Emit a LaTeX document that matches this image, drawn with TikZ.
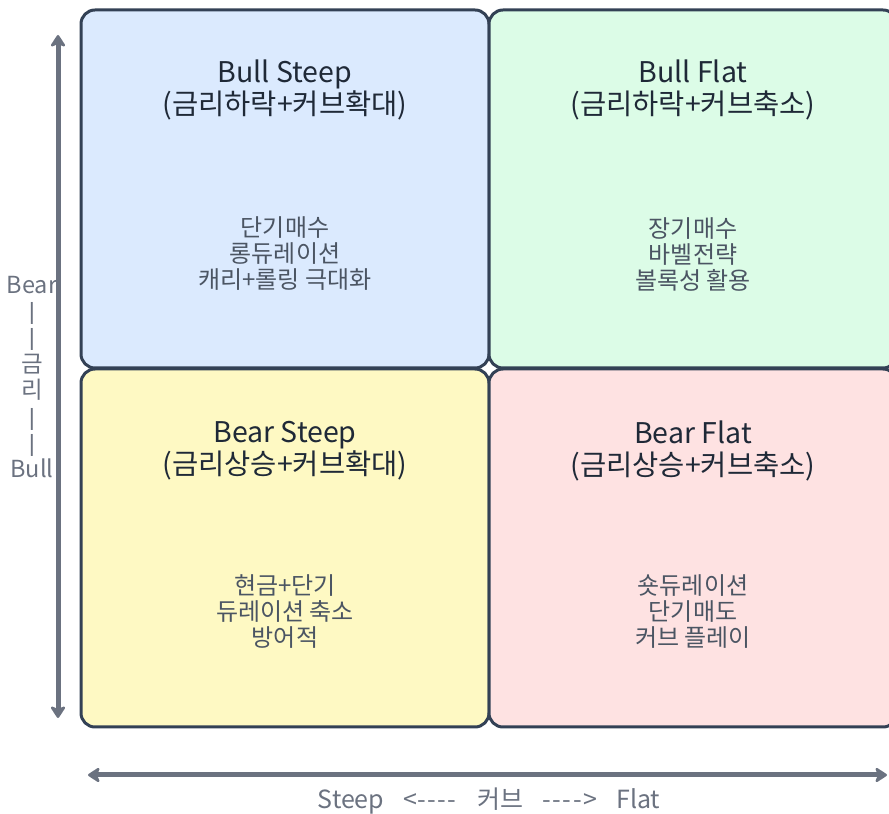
\documentclass[tikz,border=0pt]{standalone}
\usepackage{fontspec}
\setmainfont{Noto Sans CJK KR}
\newfontfamily\barfont{Liberation Sans}
\usetikzlibrary{arrows.meta}
\definecolor{bluefill}{HTML}{DBEAFE}
\definecolor{greenfill}{HTML}{DCFCE7}
\definecolor{yellowfill}{HTML}{FEF9C3}
\definecolor{redfill}{HTML}{FEE2E2}
\definecolor{borderc}{HTML}{334155}
\definecolor{titlec}{HTML}{1F2937}
\definecolor{bodyc}{HTML}{4B5563}
\definecolor{axisc}{HTML}{6B7280}
\newcommand{\hy}{\mbox{-}\kern1.6pt}
\newcommand{\vb}{{\barfont |}}
\newcommand{\gap}{\hspace{19pt}}
\tikzset{
  quad/.style={draw=borderc, line width=3pt, rounded corners=14pt, minimum width=408pt, minimum height=358pt, inner sep=0pt},
  qtitle/.style={text=titlec, align=center, font=\fontsize{28.5}{32}\selectfont},
  qbody/.style={text=bodyc, align=center, font=\fontsize{24}{26}\selectfont},
  axisarrow/.style={draw=axisc, line width=5pt, {Stealth[round,length=14pt,width=18pt,inset=4pt]}-{Stealth[round,length=14pt,width=18pt,inset=4pt]}},
  axislabel/.style={text=axisc, align=center, font=\fontsize{23.5}{26.4}\selectfont}
}
\begin{document}
\begin{tikzpicture}[x=1pt,y=1pt]
\useasboundingbox (0,0) rectangle (889,814);
\clip (0,0) rectangle (889,814);
\node[quad, fill=bluefill] (tl) at (285,625) {};
\node[quad, fill=greenfill] (tr) at (693,625) {};
\node[quad, fill=yellowfill] (bl) at (285,266) {};
\node[quad, fill=redfill] (br) at (693,266) {};

\node[qtitle] (tlt) at (285,724) {Bull Steep\\(금리하락+커브확대)};
\node[qbody] (tlb) at (285,560) {단기매수\\롱듀레이션\\캐리+롤링 극대화};
\node[qtitle] (trt) at (693,724) {Bull Flat\\(금리하락+커브축소)};
\node[qbody] (trb) at (693,560) {장기매수\\바벨전략\\볼록성 활용};
\node[qtitle] (blt) at (285,363) {Bear Steep\\(금리상승+커브확대)};
\node[qbody] (blb) at (285,202) {현금+단기\\듀레이션 축소\\방어적};
\node[qtitle] (brt) at (693,363) {Bear Flat\\(금리상승+커브축소)};
\node[qbody] (brb) at (693,202) {숏듀레이션\\단기매도\\커브 플레이};

\coordinate (vtop) at (58,779);
\coordinate (vbot) at (58,96);
\draw[axisarrow] (vbot) -- (vtop);
\coordinate (hleft) at (88,39);
\coordinate (hright) at (887,39);
\draw[axisarrow] (hleft) -- (hright);

\node[axislabel] (ylab) at (32,437) {Bear\\\vb\\\vb\\금\\리\\\vb\\\vb\\Bull};
\node[axislabel, font=\fontsize{25}{26}\selectfont] (xlab) at (489,13) {Steep\gap<\hy\hy\hy\hy\gap 커브\gap\hy\hy\hy\hy>\gap Flat};
\end{tikzpicture}
\end{document}
